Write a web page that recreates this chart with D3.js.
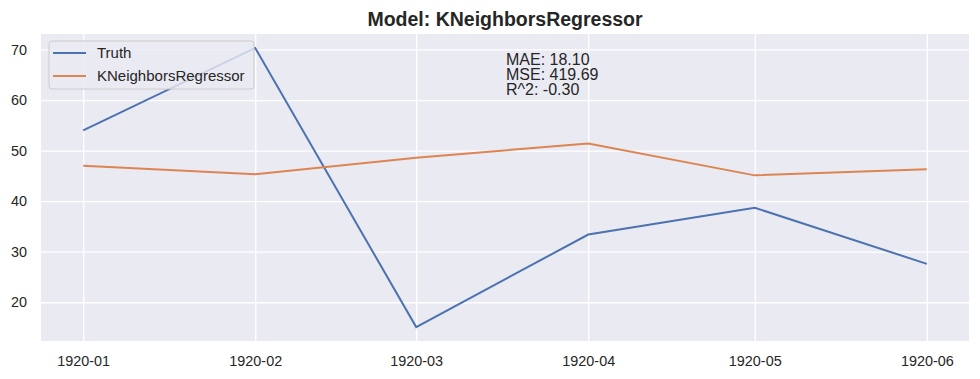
<!DOCTYPE html>
<html>
<head>
<meta charset="utf-8">
<script src="https://cdn.jsdelivr.net/npm/d3@7"></script>
<style>
  body { margin: 0; background: #fff; }
  text { font-family: "Liberation Sans", Arial, sans-serif; fill: #262626; }
</style>
</head>
<body>
<div></div>
<script>
      var outerWidth  = 980;
      var outerHeight = 379;
      var margin = { left: 41, top: 34, right: 11, bottom: 38 };

      // data
      var months    = ["1920-01", "1920-02", "1920-03", "1920-04", "1920-05", "1920-06"];
      var truth     = [54.0, 70.3, 15.1, 33.4, 38.7, 27.6];
      var predicted = [47.0, 45.3, 48.6, 51.4, 45.1, 46.3];
      var yTicks    = [20, 30, 40, 50, 60, 70];
      var metrics   = ["MAE: 18.10", "MSE: 419.69", "R^2: -0.30"];
      var modelName = "KNeighborsRegressor";

      var innerWidth  = outerWidth  - margin.left - margin.right;
      var innerHeight = outerHeight - margin.top  - margin.bottom;

      var parseMonth = d3.utcParse("%Y-%m");
      var dates = months.map(parseMonth);

      var series = [
        { name: "Truth", values: truth, color: "#4c72b0" },
        { name: modelName, values: predicted, color: "#dd8452" }
      ];

      var svg = d3.select("div").append("svg")
        .attr("width",  outerWidth)
        .attr("height", outerHeight);

      var g = svg.append("g")
        .attr("transform", "translate(" + margin.left + "," + margin.top + ")");

      // matplotlib style 5% padding on both axes
      var xExt = d3.extent(dates);
      var xPad = (xExt[1] - xExt[0]) * 0.05;
      var xScale = d3.scaleUtc()
        .domain([new Date(+xExt[0] - xPad), new Date(+xExt[1] + xPad)])
        .range([0, innerWidth]);

      var yExt = d3.extent(truth.concat(predicted));
      var yPad = (yExt[1] - yExt[0]) * 0.05;
      var yScale = d3.scaleLinear()
        .domain([yExt[0] - yPad, yExt[1] + yPad])
        .range([innerHeight, 0]);

      // background
      g.append("rect")
        .attr("width", innerWidth)
        .attr("height", innerHeight)
        .attr("fill", "#eaeaf2");

      // grid
      g.append("g")
        .attr("transform", "translate(0," + innerHeight + ")")
        .call(d3.axisBottom(xScale).tickValues(dates).tickSize(-innerHeight).tickFormat(""))
        .call(function (s) { s.select(".domain").remove(); })
        .selectAll("line").attr("stroke", "#fff").attr("stroke-width", 1.3);

      g.append("g")
        .call(d3.axisLeft(yScale).tickValues(yTicks).tickSize(-innerWidth).tickFormat(""))
        .call(function (s) { s.select(".domain").remove(); })
        .selectAll("line").attr("stroke", "#fff").attr("stroke-width", 1.3);

      // tick labels
      var xAxis = g.append("g")
        .attr("transform", "translate(0," + innerHeight + ")")
        .call(d3.axisBottom(xScale).tickValues(dates).tickSize(0).tickPadding(15)
          .tickFormat(d3.utcFormat("%Y-%m")));
      xAxis.select(".domain").remove();
      xAxis.selectAll("text").style("font-size", "14.4px").attr("fill", "#262626");

      var yAxis = g.append("g")
        .call(d3.axisLeft(yScale).tickValues(yTicks).tickSize(0).tickPadding(14));
      yAxis.select(".domain").remove();
      yAxis.selectAll("text").style("font-size", "14.4px").attr("fill", "#262626");

      // lines
      var line = d3.line()
        .x(function (d, i) { return xScale(dates[i]); })
        .y(function (d) { return yScale(d); });

      g.selectAll(".series").data(series).enter().append("path")
        .attr("class", "series")
        .attr("d", function (d) { return line(d.values); })
        .attr("fill", "none")
        .attr("stroke", function (d) { return d.color; })
        .attr("stroke-width", 2);

      // metrics text
      g.append("g").selectAll("text").data(metrics).enter().append("text")
        .attr("x", innerWidth / 2 + 1)
        .attr("y", function (d, i) { return 31 + i * 15; })
        .style("font-size", "16px")
        .text(function (d) { return d; });

      // legend
      var legend = g.append("g").attr("transform", "translate(8,7)");
      legend.append("rect")
        .attr("width", 205)
        .attr("height", 48)
        .attr("rx", 3)
        .attr("fill", "#eaeaf2")
        .attr("fill-opacity", 0.8)
        .attr("stroke", "#cccccc")
        .attr("stroke-width", 1);

      var items = legend.selectAll(".item").data(series).enter().append("g")
        .attr("class", "item")
        .attr("transform", function (d, i) { return "translate(0," + (12 + i * 23) + ")"; });
      items.append("line")
        .attr("x1", 4).attr("x2", 37)
        .attr("stroke", function (d) { return d.color; })
        .attr("stroke-width", 2);
      items.append("text")
        .attr("x", 48)
        .attr("dy", "0.35em")
        .style("font-size", "15px")
        .text(function (d) { return d.name; });

      // title
      svg.append("text")
        .attr("x", margin.left + innerWidth / 2)
        .attr("y", 26)
        .attr("text-anchor", "middle")
        .style("font-size", "19.5px")
        .style("font-weight", "bold")
        .text("Model: " + modelName);
</script>
</body>
</html>
